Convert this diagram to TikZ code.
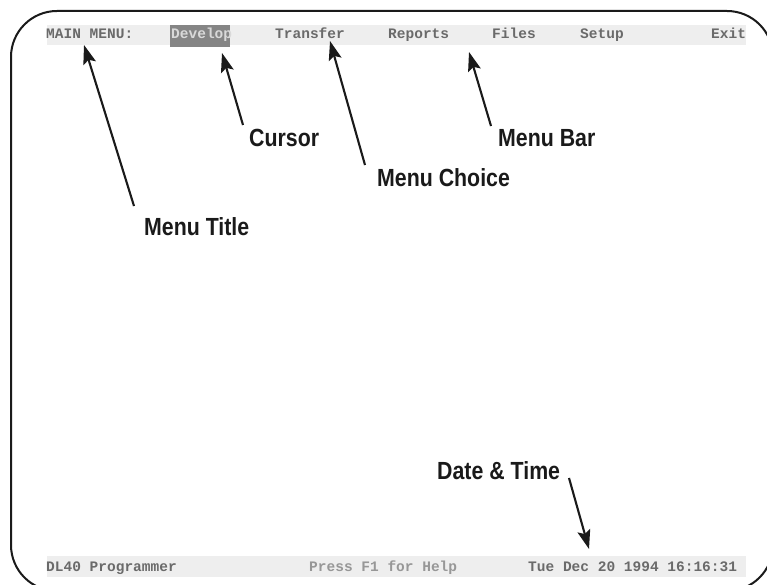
\documentclass[tikz,border=0pt]{standalone}
\usepackage{fontspec}
\setmainfont{Liberation Sans}
\newfontfamily\lblfont[FakeStretch=0.86]{Liberation Sans}
\newfontfamily\scrfont{Liberation Mono}
\usetikzlibrary{arrows.meta}
\definecolor{barcol}{HTML}{EEEEEE}
\definecolor{scrtext}{HTML}{6A6A6A}
\definecolor{hilite}{HTML}{858585}
\definecolor{ink}{HTML}{1A1A1A}
\tikzset{
  lbl/.style={inner sep=0pt,anchor=base west,text=ink,font=\lblfont\fontsize{24.8}{28}\selectfont\bfseries},
  scr/.style={inner sep=0pt,anchor=base west,text=scrtext,font=\scrfont\fontsize{14.5}{16}\selectfont\bfseries},
  pointer/.style={draw=ink,line width=2.1pt,-{Stealth[length=19pt,width=13pt,inset=3.5pt]},shorten >=0pt},
  bar/.style={fill=barcol,draw=none}
}
\begin{document}
\begin{tikzpicture}[x=1pt,y=-1pt]
\useasboundingbox (0,0) rectangle (767,585);
\clip (0,0) rectangle (767,585);
\fill[white] (0,0) rectangle (767,585);
% screen frame
\draw[ink,line width=2pt,rounded corners=46pt] (11,11) rectangle (773,591);
% bars
\fill[bar] (47,25) rectangle (746,45);
\fill[bar] (47,556) rectangle (746,577);
\fill[hilite] (170,25) rectangle (230,47);
% screen texts
\node[scr] (title) at (46,39) {MAIN MENU:};
\node[scr,text=white!85!black] (develop) at (171,39) {Develop};
\node[scr] (transfer) at (275,39) {Transfer};
\node[scr] (reports) at (388,39) {Reports};
\node[scr] (files) at (492,39) {Files};
\node[scr] (setup) at (580,39) {Setup};
\node[scr] (exit) at (711,39) {Exit};
\node[scr] (prog) at (46,571) {DL40 Programmer};
\node[scr,text=scrtext!70!white] (help) at (309,571) {Press F1 for Help};
\node[scr] (date) at (528,571) {Tue Dec 20 1994 16:16:31};
% labels
\node[lbl] (lcursor) at (249,147) {Cursor};
\node[lbl] (lchoice) at (377,187) {Menu Choice};
\node[lbl] (lbar) at (498,147) {Menu Bar};
\node[lbl] (ltitle) at (144,235) {Menu Title};
\node[lbl] (ldate) at (437,479) {Date \& Time};
% arrow ends
\coordinate (a1s) at (134,206);
\coordinate (a1e) at (84,45);
\coordinate (a2s) at (243,125);
\coordinate (a2e) at (222,53);
\coordinate (a3s) at (365,165);
\coordinate (a3e) at (330,41);
\coordinate (a4s) at (491,126);
\coordinate (a4e) at (469,52);
\coordinate (a5s) at (569,478);
\coordinate (a5e) at (589,549);
\draw[pointer] (a1s) -- (a1e);
\draw[pointer] (a2s) -- (a2e);
\draw[pointer] (a3s) -- (a3e);
\draw[pointer] (a4s) -- (a4e);
\draw[pointer] (a5s) -- (a5e);
\end{tikzpicture}
\end{document}
